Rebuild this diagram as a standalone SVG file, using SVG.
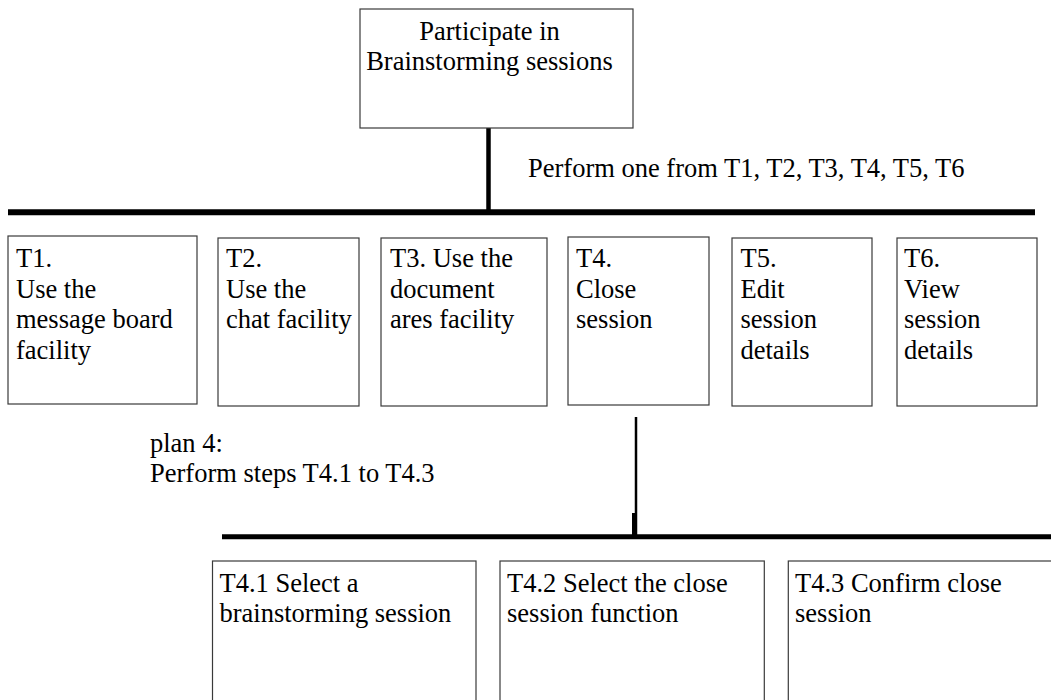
<svg xmlns="http://www.w3.org/2000/svg" width="1051" height="700" viewBox="0 0 1051 700">
  <style>
    .box { fill: #ffffff; stroke: #3a3a3a; stroke-width: 1.2; }
    .lbl { font-family: "Liberation Serif", "Times New Roman", serif; font-size: 26.5px; fill: #000000; }
    .mid { text-anchor: middle; }
    .bar { stroke: #000000; fill: none; }
  </style>
  <rect width="1051" height="700" fill="#ffffff"/>

  <!-- connectors: bars and drops of the task hierarchy -->
  <g id="connectors">
    <line class="bar" x1="488.5" y1="128" x2="488.5" y2="212" stroke-width="4.5"/>
    <line class="bar" x1="8" y1="212.3" x2="1035" y2="212.3" stroke-width="6"/>
    <line class="bar" x1="636" y1="417" x2="636" y2="535" stroke-width="2.5"/>
    <rect x="632" y="513" width="5" height="22" fill="#000000"/>
    <line class="bar" x1="222" y1="536.8" x2="1051" y2="536.8" stroke-width="5"/>
  </g>

  <!-- root task -->
  <g id="root">
    <rect class="box" x="360" y="9" width="273" height="119"/>
    <text class="lbl mid" x="489.5" y="40">Participate in</text>
    <text class="lbl mid" x="489.5" y="70">Brainstorming sessions</text>
  </g>

  <g id="plan0">
    <text class="lbl" x="528" y="177">Perform one from T1, T2, T3, T4, T5, T6</text>
  </g>

  <!-- level 1 subtasks -->
  <g id="t1">
    <rect class="box" x="8" y="236" width="189" height="168"/>
    <text class="lbl" x="16" y="267">T1.</text>
    <text class="lbl" x="16" y="297.5">Use the</text>
    <text class="lbl" x="16" y="328">message board</text>
    <text class="lbl" x="16" y="358.5">facility</text>
  </g>
  <g id="t2">
    <rect class="box" x="218" y="238" width="141" height="168"/>
    <text class="lbl" x="226" y="267">T2.</text>
    <text class="lbl" x="226" y="297.5">Use the</text>
    <text class="lbl" x="226" y="328">chat facility</text>
  </g>
  <g id="t3">
    <rect class="box" x="381" y="238" width="166" height="168"/>
    <text class="lbl" x="390" y="267">T3. Use the</text>
    <text class="lbl" x="390" y="297.5">document</text>
    <text class="lbl" x="390" y="328">ares facility</text>
  </g>
  <g id="t4">
    <rect class="box" x="568" y="237" width="141" height="168"/>
    <text class="lbl" x="576" y="267">T4.</text>
    <text class="lbl" x="576" y="297.5">Close</text>
    <text class="lbl" x="576" y="328">session</text>
  </g>
  <g id="t5">
    <rect class="box" x="732" y="238" width="140" height="168"/>
    <text class="lbl" x="740.5" y="267">T5.</text>
    <text class="lbl" x="740.5" y="297.5">Edit</text>
    <text class="lbl" x="740.5" y="328">session</text>
    <text class="lbl" x="740.5" y="358.5">details</text>
  </g>
  <g id="t6">
    <rect class="box" x="897" y="238" width="140" height="168"/>
    <text class="lbl" x="904" y="267">T6.</text>
    <text class="lbl" x="904" y="297.5">View</text>
    <text class="lbl" x="904" y="328">session</text>
    <text class="lbl" x="904" y="358.5">details</text>
  </g>

  <g id="plan4">
    <text class="lbl" x="150" y="451.7">plan 4:</text>
    <text class="lbl" x="150" y="481.7">Perform steps T4.1 to T4.3</text>
  </g>

  <!-- level 2 subtasks of T4 -->
  <g id="t4-1">
    <rect class="box" x="212.5" y="561" width="263.5" height="160"/>
    <text class="lbl" x="219.5" y="591.7">T4.1 Select a</text>
    <text class="lbl" x="219.5" y="621.7">brainstorming session</text>
  </g>
  <g id="t4-2">
    <rect class="box" x="500" y="561" width="264.3" height="160"/>
    <text class="lbl" x="507" y="591.7">T4.2 Select the close</text>
    <text class="lbl" x="507" y="621.7">session function</text>
  </g>
  <g id="t4-3">
    <rect class="box" x="788.3" y="561" width="300" height="160"/>
    <text class="lbl" x="795" y="591.7">T4.3 Confirm close</text>
    <text class="lbl" x="795" y="621.7">session</text>
  </g>
</svg>
